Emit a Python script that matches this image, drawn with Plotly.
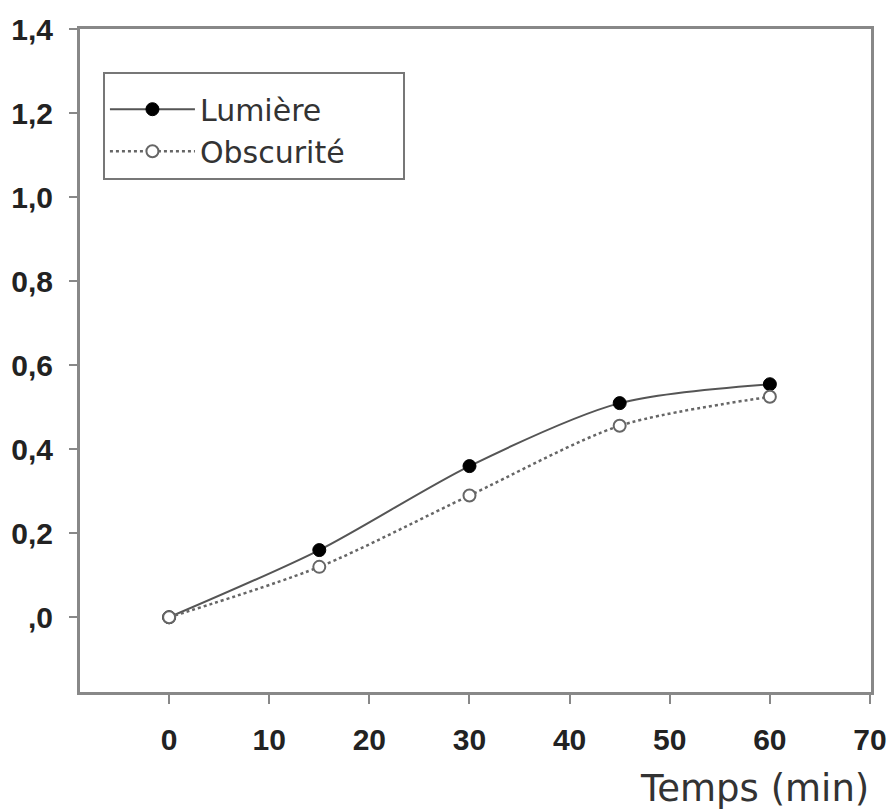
import plotly.graph_objects as go

temps = [0, 15, 30, 45, 60]
lumiere = [0.0, 0.16, 0.36, 0.51, 0.555]
obscurite = [0.0, 0.12, 0.29, 0.456, 0.525]

y_tickvals = [0, 0.2, 0.4, 0.6, 0.8, 1.0, 1.2, 1.4]
y_ticktext = [",0", "0,2", "0,4", "0,6", "0,8", "1,0", "1,2", "1,4"]
x_tickvals = [0, 10, 20, 30, 40, 50, 60, 70]
x_ticktext = ["0", "10", "20", "30", "40", "50", "60", "70"]

fig = go.Figure()
fig.add_trace(go.Scatter(
    x=temps, y=lumiere, name="Lumière" + "\u00a0" * 8,
    mode="lines+markers",
    line=dict(color="#555555", width=2, shape="spline", smoothing=0.8),
    marker=dict(color="#000000", size=13, line=dict(color="#000000", width=1)),
))
fig.add_trace(go.Scatter(
    x=temps, y=obscurite, name="Obscurité" + "\u00a0" * 5,
    mode="lines+markers",
    line=dict(color="#666666", width=2.5, dash="dot", shape="spline", smoothing=0.8),
    marker=dict(color="#ffffff", size=12, line=dict(color="#666666", width=2)),
))

tickfont = dict(family="Liberation Sans, Arial, sans-serif", size=30, color="#222222", weight="bold")

fig.update_layout(
    width=892, height=809,
    margin=dict(l=80, r=21, t=29, b=117),
    paper_bgcolor="white", plot_bgcolor="white",
    showlegend=True,
    legend=dict(
        x=0.029, y=0.935, xanchor="left", yanchor="top",
        bgcolor="white", bordercolor="#777777", borderwidth=2,
        font=dict(family="DejaVu Sans, sans-serif", size=30, color="#333333"),
        itemwidth=85,
        tracegroupgap=0,
        title=dict(text="\u00a0", font=dict(size=7)),
    ),
    xaxis=dict(
        range=[-8.9, 70.1], tickvals=x_tickvals, ticktext=x_ticktext,
        showgrid=False, zeroline=False, automargin=False,
        showline=True, linecolor="#888888", linewidth=3, mirror=True,
        ticks="outside", ticklen=9, tickwidth=2, tickcolor="#888888",
        tickfont=tickfont, ticklabelstandoff=10,
    ),
    yaxis=dict(
        range=[-0.178, 1.401], tickvals=y_tickvals, ticktext=y_ticktext,
        showgrid=False, zeroline=False, automargin=False,
        showline=True, linecolor="#888888", linewidth=3, mirror=True,
        ticks="outside", ticklen=8, tickwidth=2, tickcolor="#888888",
        tickfont=tickfont, ticklabelstandoff=10,
    ),
    annotations=[dict(
        text="Temps (min)", xref="paper", yref="paper", x=1.0, y=-0.145,
        xanchor="right", yanchor="middle", showarrow=False,
        font=dict(family="DejaVu Sans, sans-serif", size=37, color="#333333"),
    )],
)

fig.write_html(
    "out.html",
    config={"displayModeBar": False},
    post_script="document.body.style.margin='0';document.body.style.overflow='hidden';",
)
